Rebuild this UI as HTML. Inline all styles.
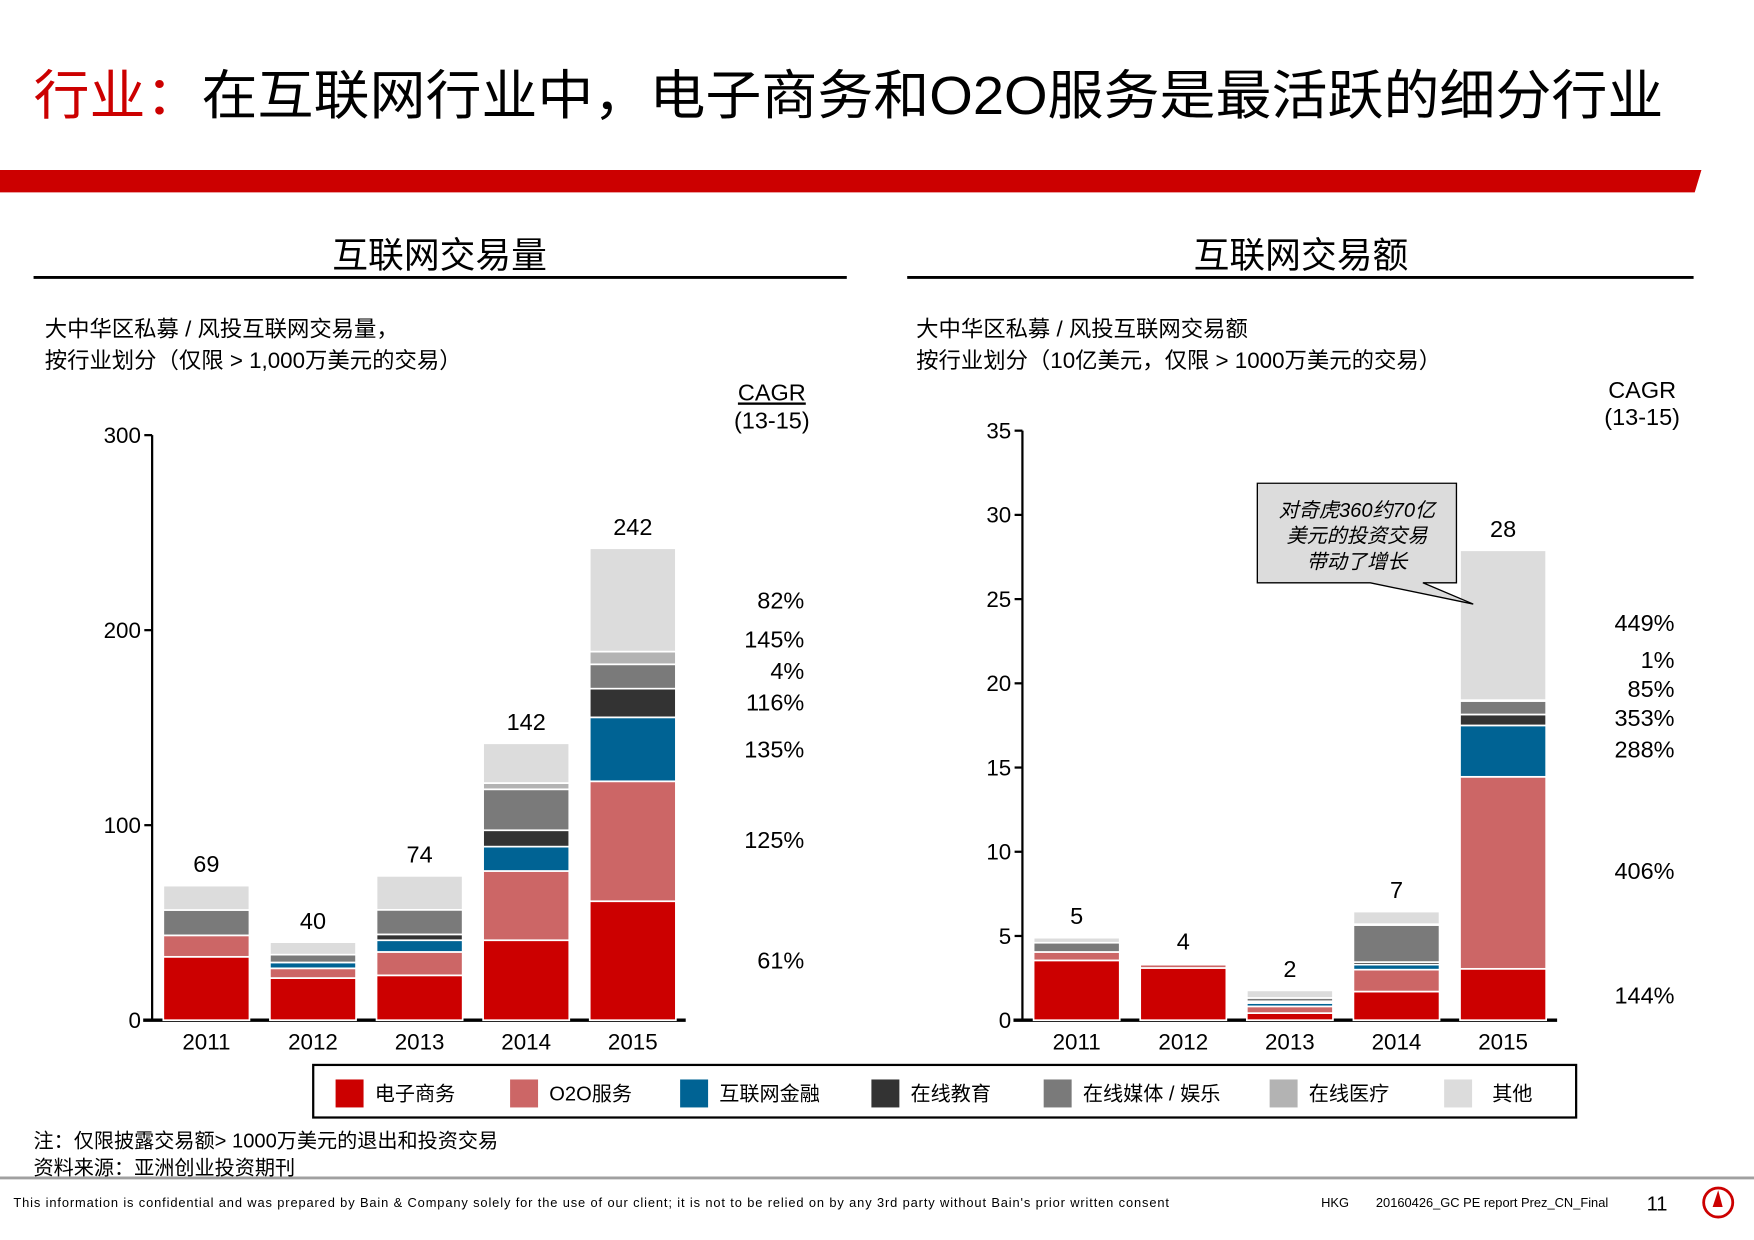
<!DOCTYPE html>
<html><head><meta charset="utf-8"><style>
html,body{margin:0;padding:0;background:#fff;}
svg{display:block;}
text{font-family:"Liberation Sans","Noto Sans CJK SC",sans-serif;}
</style></head><body>
<svg id="root" width="1754" height="1240" viewBox="0 0 1568 1108.5" preserveAspectRatio="none" xmlns="http://www.w3.org/2000/svg">
<text x="30" y="102" font-size="48" textLength="1457" lengthAdjust="spacingAndGlyphs"><tspan fill="#cc0000">行业：</tspan><tspan fill="#000">在互联网行业中，电子商务和O2O服务是最活跃的细分行业</tspan></text>
<polygon points="0,152 1521,152 1515,172 0,172" fill="#cc0000"/>
<text x="393" y="239" font-size="32" text-anchor="middle">互联网交易量</text>
<line x1="30" y1="248" x2="757" y2="248" stroke="#000" stroke-width="2.5"/>
<text x="1163" y="239" font-size="32" text-anchor="middle">互联网交易额</text>
<line x1="811" y1="248" x2="1514" y2="248" stroke="#000" stroke-width="2.5"/>
<text x="40" y="301" font-size="20">大中华区私募 / 风投互联网交易量，</text>
<text x="40" y="329" font-size="20">按行业划分（仅限 &gt; 1,000万美元的交易）</text>
<text x="819" y="301" font-size="20">大中华区私募 / 风投互联网交易额</text>
<text x="819" y="329" font-size="20">按行业划分（10亿美元，仅限 &gt; 1000万美元的交易）</text>
<text x="690" y="358" font-size="21" text-anchor="middle" text-decoration="underline">CAGR</text>
<text x="690" y="383" font-size="21" text-anchor="middle">(13-15)</text>
<text x="1468" y="356" font-size="21" text-anchor="middle">CAGR</text>
<text x="1468" y="380" font-size="21" text-anchor="middle">(13-15)</text>
<g id="leftChart"></g>
<g id="rightChart"></g>
<g>
<polygon points="1124,432 1302,432 1302,521 1272,521 1317,540 1225,521 1124,521" fill="#dcdcdc" stroke="#000" stroke-width="1.2"/>
<text x="1213" y="462" font-size="18" font-style="italic" text-anchor="middle">对奇虎360约70亿</text>
<text x="1213" y="485" font-size="18" font-style="italic" text-anchor="middle">美元的投资交易</text>
<text x="1213" y="508" font-size="18" font-style="italic" text-anchor="middle">带动了增长</text>
</g>
<g id="legend">
<rect x="280" y="952" width="1129" height="47" fill="#fff" stroke="#000" stroke-width="2"/>
</g>
<text x="30" y="1026" font-size="18">注：仅限披露交易额&gt; 1000万美元的退出和投资交易</text>
<text x="30" y="1050" font-size="18">资料来源：亚洲创业投资期刊</text>
<line x1="0" y1="1053" x2="1568" y2="1053" stroke="#a0a0a0" stroke-width="2.5"/>
<text x="12" y="1079" font-size="11.5" textLength="1033">This information is confidential and was prepared by Bain &amp; Company solely for the use of our client; it is not to be relied on by any 3rd party without Bain's prior written consent</text>
<text x="1181" y="1079" font-size="11.5">HKG</text>
<text x="1230" y="1079" font-size="11.5">20160426_GC PE report Prez_CN_Final</text>
<text x="1472" y="1082" font-size="18">11</text>
<g><circle cx="1536" cy="1075" r="13" fill="none" stroke="#cc0000" stroke-width="2.5"/><polygon points="1536,1064 1531,1079 1540,1079" fill="#cc0000"/></g>
</svg>
<script>
const NS="http://www.w3.org/2000/svg";
const years=["2011","2012","2013","2014","2015"];
const seriesNames=["电子商务","O2O服务","互联网金融","在线教育","在线媒体 / 娱乐","在线医疗","其他"];
const seriesColors=["#cc0000","#cc6666","#006394","#333333","#7a7a7a","#b3b3b3","#dcdcdc"];
// Left: deal volume (count)
const volEcom=[32.5,21.6,23,41,61];
const volO2O=[11,5,12,35.5,61.5];
const volFin=[0,3,6,12.5,32.8];
const volEdu=[0,0,3,8.4,14.7];
const volMedia=[13,4,12.6,21,12.5];
const volHealth=[0,0,0,3.2,6.5];
const volOther=[12.5,6.4,17.4,20.4,53];
const volTotals=["69","40","74","142","242"];
const volTicks=[0,100,200,300];
const volCagr=["61%","125%","135%","116%","4%","145%","82%"];
// Right: deal value (USD bn)
const valEcom=[3.55,3.1,0.42,1.7,3.05];
const valO2O=[0.5,0.2,0.4,1.3,11.4];
const valFin=[0,0,0.2,0.3,3.05];
const valEdu=[0,0,0.1,0.15,0.65];
const valMedia=[0.55,0.05,0.2,2.2,0.8];
const valHealth=[0,0,0,0.05,0.05];
const valOther=[0.3,0.05,0.45,0.75,8.9];
const valTotals=["5","4","2","7","28"];
const valTicks=[0,5,10,15,20,25,30,35];
const valCagr=["144%","406%","288%","353%","85%","1%","449%"];
const volCagrY=[866,758,677,635,607,579,544];
const valCagrY=[897,786,677,649,623,597,564];

function el(tag,attrs,parent){const e=document.createElementNS(NS,tag);for(const k in attrs)e.setAttribute(k,attrs[k]);parent.appendChild(e);return e;}

function drawChart(g,cfg){
  const y=v=>cfg.y0-(v/cfg.max)*(cfg.y0-cfg.yTop);
  const x=i=>cfg.x0+i*cfg.step;
  el("line",{x1:cfg.ax,y1:cfg.yTop,x2:cfg.ax,y2:cfg.y0,stroke:"#000","stroke-width":2},g);
  el("line",{x1:cfg.ax-8,y1:cfg.y0,x2:cfg.axEnd,y2:cfg.y0,stroke:"#000","stroke-width":3},g);
  cfg.ticks.forEach(t=>{
    el("line",{x1:cfg.ax-7,y1:y(t),x2:cfg.ax,y2:y(t),stroke:"#000","stroke-width":2},g);
    const tx=el("text",{x:cfg.ax-10,y:y(t)+7,"font-size":20,"text-anchor":"end"},g);
    tx.textContent=t;
    
    
  });
  years.forEach((yr,i)=>{
    let acc=0;
    cfg.series.forEach((s,k)=>{
      const v=s[i];
      if(v>0){
        const r=el("rect",{x:x(i),y:y(acc+v),width:cfg.w,height:Math.max(0.5,y(acc)-y(acc+v)),fill:seriesColors[k],stroke:"#fff","stroke-width":1.5},g);
        
        
      }
      acc+=v;
    });
    const lt=el("text",{x:x(i)+cfg.w/2,y:y(acc)-12,"font-size":21,"text-anchor":"middle"},g);
    lt.textContent=cfg.totals[i];
    
    
    const xl=el("text",{x:x(i)+cfg.w/2,y:cfg.y0+26,"font-size":20,"text-anchor":"middle"},g);
    xl.textContent=yr;
    
    
  });
  cfg.cagr.forEach((c,k)=>{
    const t=el("text",{x:cfg.cagrX,y:cfg.cagrY[k],"font-size":21,"text-anchor":"end"},g);
    t.textContent=c;
    
    
  });
}
drawChart(document.getElementById("leftChart"),{ax:136,axEnd:613,y0:912,yTop:389,max:300,x0:146,step:95.3,w:77,
  series:[volEcom,volO2O,volFin,volEdu,volMedia,volHealth,volOther],totals:volTotals,ticks:volTicks,cagr:volCagr,cagrX:719,cagrY:volCagrY});
drawChart(document.getElementById("rightChart"),{ax:914,axEnd:1392,y0:912,yTop:385,max:35,x0:924,step:95.3,w:77,
  series:[valEcom,valO2O,valFin,valEdu,valMedia,valHealth,valOther],totals:valTotals,ticks:valTicks,cagr:valCagr,cagrX:1497,cagrY:valCagrY});

const legendX=[300,456,608,779,933,1135,1291];
const lg=document.getElementById("legend");
seriesNames.forEach((n,k)=>{
  const r=el("rect",{x:legendX[k],y:965,width:25,height:25,fill:seriesColors[k]},lg);
  
  
  const t=el("text",{x:legendX[k]+(k==6?43:35),y:984,"font-size":18},lg);
  t.textContent=n;
  
  
});
</script>
</body></html>
